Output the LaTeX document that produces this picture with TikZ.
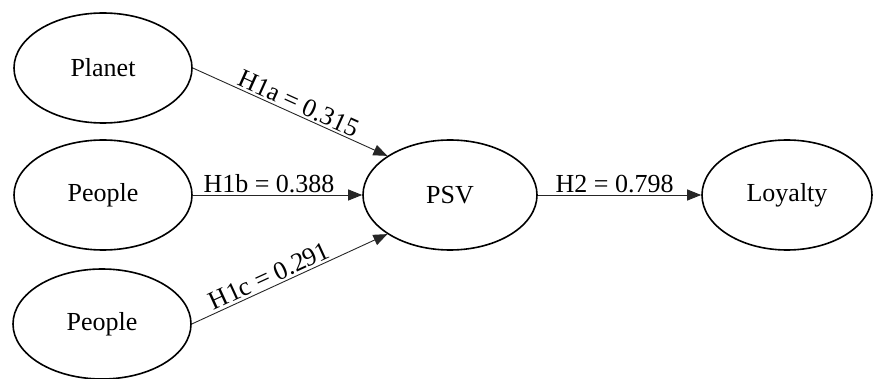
\documentclass[tikz,border=0pt]{standalone}
\usepackage{fontspec}
\setmainfont{Liberation Serif}
\usetikzlibrary{shapes.geometric,arrows.meta}
\begin{document}
\begin{tikzpicture}[x=1pt,y=-1pt,
  latent/.style={ellipse,draw=black,line width=1.6pt,minimum width=178pt,minimum height=110pt,inner sep=0pt,font=\fontsize{26}{30}\selectfont},
  path/.style={draw=black!85,line width=0.9pt,-{Triangle[length=14pt,width=11pt]}},
  lab/.style={font=\fontsize{26}{30}\selectfont,inner sep=2pt}]
\useasboundingbox (0,0) rectangle (888,379);
\node[latent] (planet) at (103,68) {Planet};
\node[latent] (people1) at (103,195) {People};
\node[latent] (people2) at (102,324) {People};
\node[latent,minimum width=174pt] (psv) at (450,195) {PSV};
\node[latent,minimum width=170pt] (loyalty) at (787,195) {Loyalty};
\draw[path] (planet.east) -- node[lab,sloped,above,pos=0.52] {H1a = 0.315} (psv.148);
\draw[path] (people1.east) -- node[lab,above,pos=0.45] {H1b = 0.388} (psv.west);
\draw[path] (people2.east) -- node[lab,sloped,above,pos=0.42] {H1c = 0.291} (psv.212);
\draw[path] (psv.east) -- node[lab,above,pos=0.47] {H2 = 0.798} (loyalty.west);
\end{tikzpicture}
\end{document}
